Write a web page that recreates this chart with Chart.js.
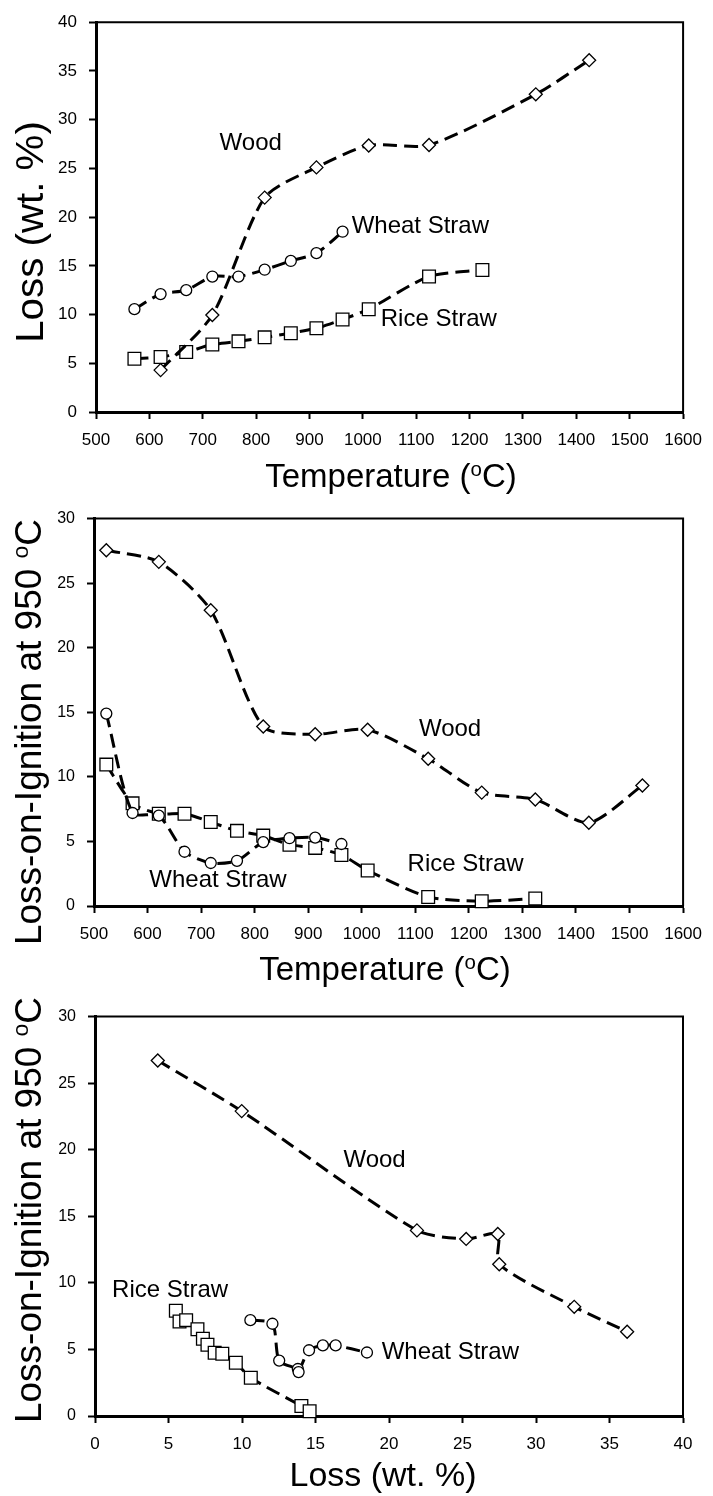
<!DOCTYPE html>
<html>
<head>
<meta charset="utf-8">
<script src="https://cdn.jsdelivr.net/npm/chart.js@4.4.1/dist/chart.umd.min.js"></script>
<style>
  html, body { margin: 0; padding: 0; background: #fff; }
  body { width: 713px; height: 1496px; position: relative; overflow: hidden; }
  .panel { position: absolute; left: 0; width: 713px; }
  canvas { display: block; }
</style>
</head>
<body>
<div class="panel" style="top:0;height:497px"><canvas id="lossChart" width="713" height="497"></canvas></div>
<div class="panel" style="top:497px;height:498px"><canvas id="loiTempChart" width="713" height="498"></canvas></div>
<div class="panel" style="top:995px;height:501px"><canvas id="loiLossChart" width="713" height="501"></canvas></div>
<script>
// ---- Panel 1: mass loss (wt. %) against temperature (°C) ----
const woodTempA  = [621, 718, 816, 913, 1011, 1124, 1324, 1424];
const woodLossA  = [4.3, 9.95, 22.0, 25.1, 27.35, 27.4, 32.6, 36.1];
const wheatTempA = [572, 621, 669, 718, 767, 816, 865, 913, 962];
const wheatLossA = [10.55, 12.1, 12.5, 13.9, 13.9, 14.6, 15.5, 16.3, 18.5];
const riceTempA  = [572, 621, 669, 718, 767, 816, 865, 913, 962, 1011, 1124, 1224];
const riceLossA  = [5.47, 5.64, 6.15, 6.92, 7.25, 7.66, 8.09, 8.6, 9.5, 10.55, 13.9, 14.58];

// ---- Panel 2: loss-on-ignition at 950 °C against temperature (°C) ----
const woodTempB  = [523, 621, 718, 816, 913, 1011, 1124, 1224, 1324, 1424, 1524];
const woodLoiB   = [27.55, 26.65, 22.9, 13.9, 13.3, 13.65, 11.4, 8.78, 8.25, 6.45, 9.33];
const wheatTempB = [523, 572, 621, 669, 718, 767, 816, 865, 913, 962];
const wheatLoiB  = [14.9, 7.2, 7.0, 4.2, 3.33, 3.5, 4.95, 5.25, 5.3, 4.8];
const riceTempB  = [523, 572, 621, 669, 718, 767, 816, 865, 913, 962, 1011, 1124, 1224, 1324];
const riceLoiB   = [10.95, 7.95, 7.15, 7.15, 6.5, 5.82, 5.45, 4.75, 4.5, 3.95, 2.75, 0.7, 0.37, 0.58];

// ---- Panel 3: loss-on-ignition at 950 °C against mass loss (wt. %) ----
const woodLossC  = [4.27, 9.98, 21.9, 25.25, 27.4, 27.5, 32.6, 36.2];
const woodLoiC   = [26.7, 22.9, 13.94, 13.3, 13.67, 11.4, 8.2, 6.33];
const wheatLossC = [10.57, 12.07, 12.53, 13.8, 13.85, 14.56, 15.5, 16.37, 18.5];
const wheatLoiC  = [7.2, 6.93, 4.16, 3.53, 3.3, 4.94, 5.3, 5.3, 4.77];
const riceLossC  = [5.5, 5.75, 6.2, 6.97, 7.34, 7.65, 8.14, 8.66, 9.58, 10.6, 14.04, 14.6];
const riceLoiC   = [7.9, 7.1, 7.2, 6.52, 5.8, 5.35, 4.75, 4.67, 4.0, 2.87, 0.75, 0.36];

// Axis ranges and tick steps
const tempTicks = { min: 500, max: 1600, step: 100 };
const lossTicks = { min: 0, max: 40, step: 5 };
const loiTicks  = { min: 0, max: 30, step: 5 };

// Series names
const seriesNames = { wood: 'Wood', wheat: 'Wheat Straw', rice: 'Rice Straw' };

const FONT = '"Liberation Sans", Arial, Helvetica, sans-serif';

function pairs(xs, ys) { return xs.map((x, i) => ({ x: x, y: ys[i] })); }

function series(name, xs, ys, style, radius) {
  return {
    label: name,
    data: pairs(xs, ys),
    borderColor: '#000',
    borderWidth: 3,
    borderDash: [14, 7],
    tension: 0.25,
    fill: false,
    clip: false,
    pointStyle: style,
    pointRadius: radius,
    pointHoverRadius: radius,
    pointBorderWidth: 1.3,
    pointBorderColor: '#000',
    pointBackgroundColor: '#fff'
  };
}

// Draws text made of plain and raised (superscript) pieces, centred on cx.
// stretch > 1 lengthens the text along its reading direction.
function drawRich(ctx, parts, size, cx, base, rotated, stretch) {
  const supSize = size * 0.62;
  let total = 0;
  const widths = parts.map(p => {
    ctx.font = (p.sup ? supSize : size) + 'px ' + FONT;
    const w = ctx.measureText(p.t).width;
    total += w;
    return w;
  });
  ctx.save();
  if (rotated) { ctx.translate(base, cx); ctx.rotate(-Math.PI / 2); }
  else { ctx.translate(cx, base); }
  ctx.scale(stretch || 1, 1);
  ctx.fillStyle = '#000';
  ctx.textAlign = 'left';
  ctx.textBaseline = 'alphabetic';
  let x = -total / 2;
  parts.forEach((p, i) => {
    ctx.font = (p.sup ? supSize : size) + 'px ' + FONT;
    ctx.fillText(p.t, x, p.sup ? -size * 0.34 : 0);
    x += widths[i];
  });
  ctx.restore();
}

// Box frame, axis titles and in-plot series names
const decorPlugin = {
  id: 'decor',
  afterDraw(chart, args, opts) {
    const ctx = chart.ctx;
    const a = chart.chartArea;
    ctx.save();
    ctx.strokeStyle = '#000';
    ctx.lineWidth = 2;
    ctx.beginPath();
    ctx.moveTo(a.left, a.top);
    ctx.lineTo(a.right, a.top);
    ctx.lineTo(a.right, a.bottom);
    ctx.stroke();
    ctx.restore();

    const xt = opts.xTitle, yt = opts.yTitle;
    drawRich(ctx, xt.parts, xt.size, xt.center, xt.base, false, xt.stretch);
    drawRich(ctx, yt.parts, yt.size, yt.center, yt.base, true, yt.stretch);

    const xs = chart.scales.x, ys = chart.scales.y;
    ctx.save();
    ctx.fillStyle = '#000';
    ctx.font = opts.labelSize + 'px ' + FONT;
    ctx.textAlign = 'left';
    ctx.textBaseline = 'alphabetic';
    opts.labels.forEach(l => {
      ctx.fillText(l.text, xs.getPixelForValue(l.x), ys.getPixelForValue(l.y));
    });
    ctx.restore();
  }
};

function makeChart(id, g, xr, yr, datasets, decor, yTickSize) {
  const canvas = document.getElementById(id);
  const H = canvas.height;
  return new Chart(canvas, {
    type: 'line',
    data: { datasets: datasets },
    plugins: [decorPlugin],
    options: {
      responsive: false,
      animation: false,
      devicePixelRatio: 1,
      events: [],
      layout: { padding: { left: 0, top: g.top - g.offset, right: 713 - g.right, bottom: 0 } },
      plugins: { legend: { display: false }, tooltip: { enabled: false }, decor: decor },
      scales: {
        x: {
          type: 'linear', min: xr.min, max: xr.max,
          afterFit: s => { s.height = g.offset + H - g.bottom; },
          afterBuildTicks: s => {
            const t = [];
            for (let v = xr.min; v <= xr.max + 1e-9; v += xr.step) t.push({ value: v });
            s.ticks = t;
          },
          ticks: {
            color: '#000', padding: 11, maxRotation: 0, autoSkip: false,
            font: { family: FONT, size: 17 },
            callback: v => String(v)
          },
          grid: { drawOnChartArea: false, drawTicks: true, tickLength: 7, tickWidth: 2, tickColor: '#000', color: '#000' },
          border: { display: true, color: '#000', width: 3 }
        },
        y: {
          type: 'linear', min: yr.min, max: yr.max,
          afterFit: s => { s.width = g.left; },
          afterBuildTicks: s => {
            const t = [];
            for (let v = yr.min; v <= yr.max + 1e-9; v += yr.step) t.push({ value: v });
            s.ticks = t;
          },
          ticks: {
            color: '#000', padding: 12, autoSkip: false,
            font: { family: FONT, size: yTickSize },
            callback: v => String(v)
          },
          grid: { drawOnChartArea: false, drawTicks: true, tickLength: 7, tickWidth: 2, tickColor: '#000', color: '#000' },
          border: { display: true, color: '#000', width: 3 }
        }
      }
    }
  });
}

const tempTitle = [{ t: 'Temperature (' }, { t: 'o', sup: true }, { t: 'C)' }];
const loiTitle  = [{ t: 'Loss-on-Ignition at 950 ' }, { t: 'o', sup: true }, { t: 'C' }];
const lossTitle = [{ t: 'Loss (wt. %)' }];

// Panel 1
makeChart('lossChart',
  { offset: 0, left: 96, right: 685, top: 15, bottom: 412 },
  tempTicks, lossTicks,
  [
    series(seriesNames.wood, woodTempA, woodLossA, 'rectRot', 6.5),
    series(seriesNames.wheat, wheatTempA, wheatLossA, 'circle', 5.5),
    series(seriesNames.rice, riceTempA, riceLossA, 'rect', 9)
  ],
  {
    xTitle: { parts: tempTitle, size: 33, center: 391, base: 487 },
    yTitle: { parts: lossTitle, size: 38, center: 232, base: 43, stretch: 1.06 },
    labelSize: 24,
    labels: [
      { text: seriesNames.wood, x: 731.6, y: 26.9 },
      { text: seriesNames.wheat, x: 979, y: 18.41 },
      { text: seriesNames.rice, x: 1033.6, y: 8.87 }
    ]
  }, 17);

// Panel 2
makeChart('loiTempChart',
  { offset: 497, left: 94, right: 685, top: 506, bottom: 906 },
  tempTicks, loiTicks,
  [
    series(seriesNames.wood, woodTempB, woodLoiB, 'rectRot', 6.5),
    series(seriesNames.wheat, wheatTempB, wheatLoiB, 'circle', 5.5),
    series(seriesNames.rice, riceTempB, riceLoiB, 'rect', 9)
  ],
  {
    xTitle: { parts: tempTitle, size: 33, center: 385, base: 980 - 497 },
    yTitle: { parts: loiTitle, size: 37, center: 732 - 497, base: 41 },
    labelSize: 24,
    labels: [
      { text: seriesNames.wood, x: 1106.7, y: 13.2 },
      { text: seriesNames.rice, x: 1085.5, y: 2.7 },
      { text: seriesNames.wheat, x: 603.3, y: 1.45 }
    ]
  }, 16);

// Panel 3
makeChart('loiLossChart',
  { offset: 995, left: 95, right: 683, top: 1005, bottom: 1416 },
  lossTicks, loiTicks,
  [
    series(seriesNames.wood, woodLossC, woodLoiC, 'rectRot', 6.5),
    series(seriesNames.wheat, wheatLossC, wheatLoiC, 'circle', 5.5),
    series(seriesNames.rice, riceLossC, riceLoiC, 'rect', 9)
  ],
  {
    xTitle: { parts: lossTitle, size: 34, center: 383, base: 1486 - 995 },
    yTitle: { parts: loiTitle, size: 37, center: 1210 - 995, base: 41 },
    labelSize: 24,
    labels: [
      { text: seriesNames.wood, x: 16.9, y: 18.7 },
      { text: seriesNames.rice, x: 1.16, y: 8.96 },
      { text: seriesNames.wheat, x: 19.5, y: 4.28 }
    ]
  }, 16);
</script>
</body>
</html>
